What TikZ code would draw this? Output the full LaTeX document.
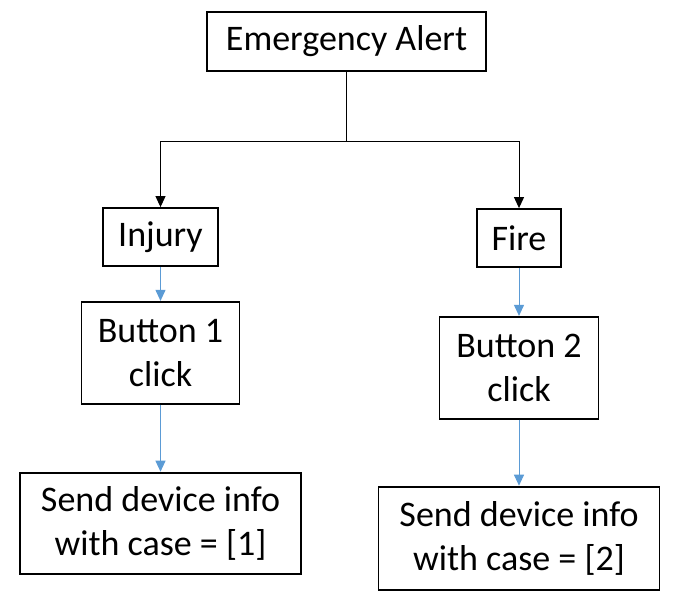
\documentclass[tikz,border=0pt]{standalone}
\usepackage{fontspec}
\setmainfont{Carlito}
\usepackage{xcolor}
\usetikzlibrary{positioning,arrows.meta}
\definecolor{linkblue}{HTML}{5B9BD5}

\begin{document}
\begin{tikzpicture}[
      box/.style={rectangle, draw, line width=1.8pt, align=center, inner sep=0pt, font=\fontsize{36}{44}\selectfont},
      arrow/.style={-{Triangle[length=11pt,width=10pt]}, line width=1pt},
      bluearrow/.style={arrow, draw=linkblue, -{Triangle[length=11pt,width=10pt,fill=linkblue]}}
  ]
  \useasboundingbox (0,0) rectangle (687pt,608pt);
  % Nodes
  \node[box, minimum width=279pt, minimum height=59pt] (alert) at (346.5pt,566.5pt) {Emergency Alert};
  \node[box, minimum width=115pt, minimum height=58pt] (injury) at (160.5pt,371pt) {Injury};
  \node[box, minimum width=84pt, minimum height=58pt] (fire) at (519pt,370pt) {Fire};
  \node[box, minimum width=158pt, minimum height=102pt, below=34pt of injury] (btn1) {Button 1\\click};
  \node[box, minimum width=159pt, minimum height=102pt, below=48pt of fire] (btn2) {Button 2\\click};
  \node[box, minimum width=281pt, minimum height=101pt, below=67pt of btn1] (send1) {Send device info\\with case = [1]};
  \node[box, minimum width=281pt, minimum height=103pt, below=66pt of btn2] (send2) {Send device info\\with case = [2]};
  \coordinate[below=70pt of alert] (split);
  % Arrows
  \draw[line width=1pt] (alert) -- (split);
  \draw[arrow] (split) -| (injury);
  \draw[arrow] (split) -| (fire);
  \draw[bluearrow] (injury) -- (btn1);
  \draw[bluearrow] (btn1) -- (send1);
  \draw[bluearrow] (fire) -- (btn2);
  \draw[bluearrow] (btn2) -- (send2);
\end{tikzpicture}
\end{document}
